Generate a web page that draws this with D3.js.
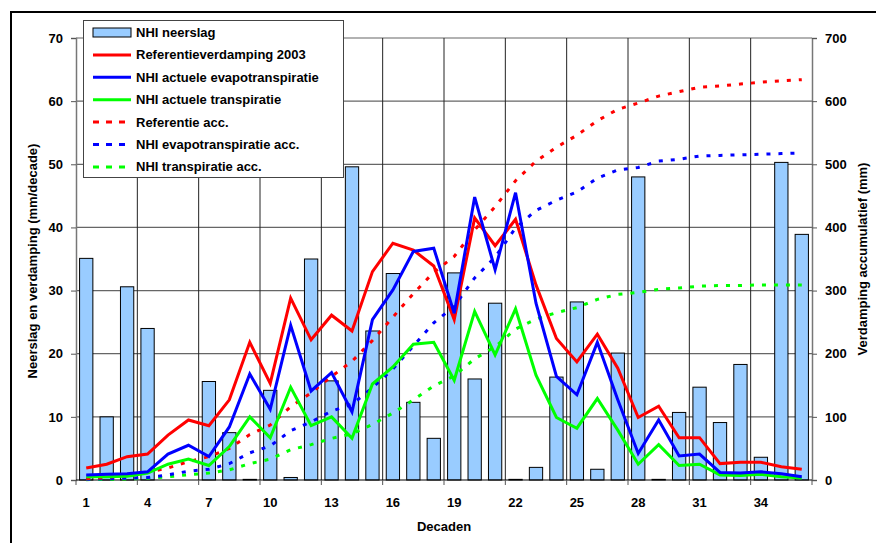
<!DOCTYPE html>
<html>
<head>
<meta charset="utf-8">
<script src="https://cdn.jsdelivr.net/npm/d3@7"></script>
<style>
  body { margin: 0; background: #fff; }
  svg text { font-family: "Liberation Sans", Arial, sans-serif; font-weight: bold; }
</style>
</head>
<body>
<svg id="chart" width="876" height="543"></svg>
<script>
// decades 1..36
const decades = d3.range(1, 37);
const xTickLabels = [1, 4, 7, 10, 13, 16, 19, 22, 25, 28, 31, 34];
const leftTicks = [0, 10, 20, 30, 40, 50, 60, 70];
const rightTicks = [0, 100, 200, 300, 400, 500, 600, 700];

// NHI neerslag (mm/decade)
const neerslag = [35.1, 10.0, 30.6, 24.0, 0, 0, 15.6, 7.5, 0.1, 14.2, 0.4, 35.0,
  15.7, 49.6, 23.6, 32.7, 12.3, 6.6, 32.8, 16.0, 28.0, 0.1, 2.0, 16.3,
  28.2, 1.7, 20.1, 48.0, 0.1, 10.7, 14.7, 9.1, 18.3, 3.6, 50.3, 38.9];

// Referentieverdamping 2003
const refVerd = [1.9, 2.5, 3.7, 4.1, 7.1, 9.5, 8.6, 12.7, 21.8, 15.3, 28.8, 22.2,
  26.1, 23.6, 33.0, 37.5, 36.4, 33.9, 25.4, 41.5, 37.1, 41.3, 30.9, 22.4,
  18.7, 23.1, 17.7, 9.9, 11.7, 6.7, 6.7, 2.6, 2.8, 2.8, 2.1, 1.7];

// NHI actuele evapotranspiratie
const actEvap = [0.8, 0.9, 1.0, 1.3, 4.1, 5.5, 3.7, 8.4, 16.8, 11.2, 24.5, 14.1,
  17.0, 10.8, 25.4, 30.1, 36.2, 36.7, 26.4, 44.8, 33.3, 45.5, 28.0, 16.4,
  13.5, 21.8, 12.7, 4.2, 9.5, 3.8, 4.1, 1.2, 1.1, 1.3, 1.0, 0.5];

// NHI actuele transpiratie
const actTransp = [0.5, 0.5, 0.6, 1.1, 2.5, 3.3, 2.3, 5.3, 10.0, 6.7, 14.7, 8.6,
  10.0, 6.6, 15.2, 17.9, 21.5, 21.8, 15.8, 26.7, 19.8, 27.1, 16.6, 9.9,
  8.2, 12.9, 7.9, 2.5, 5.6, 2.3, 2.5, 0.8, 0.7, 0.9, 0.5, 0.3];

// accumulated (mm), right axis
const refAcc = [2, 4, 8, 12, 19, 29, 37, 50, 72, 87, 116, 138,
  164, 188, 221, 258, 295, 329, 354, 396, 433, 474, 505, 527,
  546, 569, 587, 597, 608, 615, 622, 624, 627, 630, 632, 634];
const evapAcc = [1, 2, 3, 4, 8, 14, 17, 26, 43, 54, 78, 92,
  109, 120, 146, 176, 212, 249, 275, 320, 353, 399, 427, 443,
  456, 478, 491, 495, 505, 508, 513, 514, 515, 516, 517, 518];
const transpAcc = [0.5, 1, 1.6, 2.7, 5, 8.5, 11, 16, 26, 33, 48, 56,
  66, 73, 88, 106, 127, 149, 165, 192, 211, 239, 255, 265,
  273, 286, 294, 297, 302, 304, 307, 308, 308, 309, 309, 309];

const svg = d3.select('#chart');
const pL = 76, pR = 812, pT = 38, pB = 480;

const x = d3.scaleBand().domain(decades).range([pL, pR]).paddingInner(0.35).paddingOuter(0.175);
const xc = d => x(d) + x.bandwidth() / 2;
const step = (pR - pL) / decades.length;
const yL = d3.scaleLinear().domain([0, 70]).range([pB, pT]);
const yR = d3.scaleLinear().domain([0, 700]).range([pB, pT]);

// outer frame
svg.append('rect').attr('x', 11).attr('y', 12).attr('width', 880).attr('height', 560)
  .attr('fill', 'none').attr('stroke', '#000').attr('stroke-width', 2);

// gridlines
svg.append('g').selectAll('line').data(leftTicks.slice(1)).join('line')
  .attr('x1', pL).attr('x2', pR).attr('y1', d => yL(d)).attr('y2', d => yL(d))
  .attr('stroke', '#666').attr('stroke-width', 1.2);
svg.append('g').selectAll('line').data(d3.range(3, 36, 3)).join('line')
  .attr('x1', d => pL + d * step).attr('x2', d => pL + d * step)
  .attr('y1', pT).attr('y2', pB)
  .attr('stroke', '#222').attr('stroke-width', 1);

// bars
svg.append('g').selectAll('rect').data(decades).join('rect')
  .attr('x', d => x(d))
  .attr('y', (d, i) => yL(neerslag[i]))
  .attr('width', x.bandwidth())
  .attr('height', (d, i) => pB - yL(neerslag[i]))
  .attr('fill', '#99CCFF')
  .attr('stroke', (d, i) => neerslag[i] > 0 ? '#000' : 'none')
  .attr('stroke-width', 1);

// axes
const axL = svg.append('g').attr('transform', `translate(${pL},0)`)
  .call(d3.axisLeft(yL).tickValues(leftTicks).tickSize(5).tickPadding(8));
const axR = svg.append('g').attr('transform', `translate(${pR},0)`)
  .call(d3.axisRight(yR).tickValues(rightTicks).tickSize(5).tickPadding(8));
[axL, axR].forEach(a => {
  a.select('.domain').attr('stroke', '#777').attr('stroke-width', 1.5);
  a.selectAll('.tick line').attr('stroke', '#555');
  a.selectAll('text').attr('font-size', 13).attr('fill', '#000')
    .style('font-family', '"Liberation Sans", Arial, sans-serif').style('font-weight', 'bold');
});

const tickPos = d3.range(0, 37, 3).map(d => pL + d * step);
const xAxisG = svg.append('g');
xAxisG.append('line').attr('x1', pL).attr('x2', pR).attr('y1', pB).attr('y2', pB)
  .attr('stroke', '#000').attr('stroke-width', 1.2);
xAxisG.selectAll('line.t').data(tickPos).join('line').attr('class', 't')
  .attr('x1', d => d).attr('x2', d => d).attr('y1', pB).attr('y2', pB + 5)
  .attr('stroke', '#555');
xAxisG.selectAll('text').data(xTickLabels).join('text')
  .attr('x', d => xc(d)).attr('y', 507).attr('text-anchor', 'middle')
  .attr('font-size', 13).text(d => d);

// lines
const lineL = d3.line().x((d, i) => xc(decades[i])).y(d => yL(d));
const lineR = d3.line().x((d, i) => xc(decades[i])).y(d => yR(d));

const accSeries = [
  { data: transpAcc, color: '#00FF00' },
  { data: evapAcc, color: '#0000FF' },
  { data: refAcc, color: '#FF0000' }
];
accSeries.forEach(s => {
  svg.append('path').attr('d', lineR(s.data)).attr('fill', 'none')
    .attr('stroke', s.color).attr('stroke-width', 3).attr('stroke-dasharray', '4,8');
});

const mainSeries = [
  { data: actTransp, color: '#00FF00' },
  { data: refVerd, color: '#FF0000' },
  { data: actEvap, color: '#0000FF' }
];
mainSeries.forEach(s => {
  svg.append('path').attr('d', lineL(s.data)).attr('fill', 'none')
    .attr('stroke', s.color).attr('stroke-width', 3);
});

// axis titles
svg.append('text').attr('x', 444).attr('y', 531).attr('text-anchor', 'middle')
  .attr('font-size', 13).text('Decaden');
svg.append('text').attr('transform', 'translate(37,261) rotate(-90)').attr('text-anchor', 'middle')
  .attr('font-size', 13).text('Neerslag en verdamping (mm/decade)');
svg.append('text').attr('transform', 'translate(867,259) rotate(-90)').attr('text-anchor', 'middle')
  .attr('font-size', 13).text('Verdamping accumulatief (mm)');

// legend
const legendItems = [
  { label: 'NHI neerslag', type: 'bar', color: '#99CCFF' },
  { label: 'Referentieverdamping 2003', type: 'line', color: '#FF0000' },
  { label: 'NHI actuele evapotranspiratie', type: 'line', color: '#0000FF' },
  { label: 'NHI actuele transpiratie', type: 'line', color: '#00FF00' },
  { label: 'Referentie acc.', type: 'dash', color: '#FF0000' },
  { label: 'NHI evapotranspiratie acc.', type: 'dash', color: '#0000FF' },
  { label: 'NHI transpiratie acc.', type: 'dash', color: '#00FF00' }
];
const lg = svg.append('g');
lg.append('rect').attr('x', 83.5).attr('y', 20.5).attr('width', 260).attr('height', 157)
  .attr('fill', '#fff').attr('stroke', '#444').attr('stroke-width', 1);
const rows = lg.selectAll('g.row').data(legendItems).join('g').attr('class', 'row')
  .attr('transform', (d, i) => `translate(0,${32.5 + i * 22.4})`);
rows.filter(d => d.type === 'bar').append('rect')
  .attr('x', 93).attr('y', -4.5).attr('width', 38).attr('height', 9)
  .attr('fill', d => d.color).attr('stroke', '#000');
rows.filter(d => d.type !== 'bar').append('line')
  .attr('x1', 93).attr('x2', 131).attr('y1', 0).attr('y2', 0)
  .attr('stroke', d => d.color).attr('stroke-width', 3)
  .attr('stroke-dasharray', d => d.type === 'dash' ? '6,7' : null);
rows.append('text').attr('x', 136).attr('y', 4.5).attr('font-size', 13).text(d => d.label);
</script>
</body>
</html>
